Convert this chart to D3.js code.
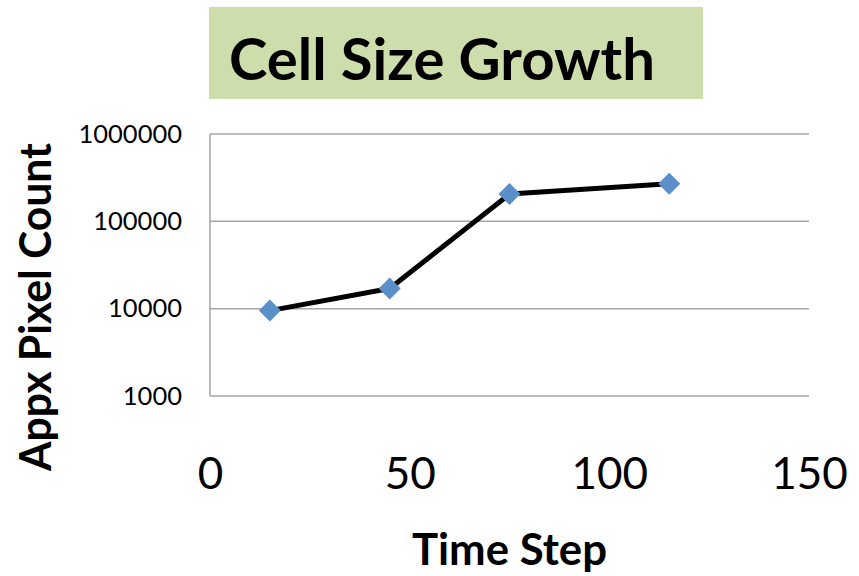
<!DOCTYPE html>
<html>
<head>
<meta charset="utf-8">
<script src="https://cdn.jsdelivr.net/npm/d3@7/dist/d3.min.js"></script>
<style>
  html, body { margin: 0; padding: 0; background: #ffffff; }
  svg { display: block; }
  text { font-family: Lato, "Open Sans", sans-serif; fill: #000; }
</style>
</head>
<body>
<svg id="chart" width="859" height="576"></svg>
<script>
// Series: approximate pixel count of the cell at each time step
const timeSteps = [15, 45, 75, 115];
const pixelCounts = [9500, 17000, 205000, 270000];

// Axis ticks
const xTicks = [0, 50, 100, 150];
const yTicks = [1000, 10000, 100000, 1000000];

const titleText = "Cell Size Growth";
const xLabel = "Time Step";
const yLabel = "Appx Pixel Count";

const svg = d3.select("#chart");
const plot = { left: 210, right: 809, top: 134, bottom: 396 };

const x = d3.scaleLinear().domain([0, 150]).range([plot.left, plot.right]);
const y = d3.scaleLog().domain([1000, 1000000]).range([plot.bottom, plot.top]);

// Scale a text element's font size so it spans the given width
function fitWidth(sel, width) {
  const node = sel.node();
  const fs = parseFloat(sel.attr("font-size"));
  const w = node.getComputedTextLength();
  sel.attr("font-size", (fs * width / w).toFixed(2));
}

// Horizontal squeeze factor that makes a text element span the given width
function squeezeFor(sel, width) {
  return width / sel.node().getComputedTextLength();
}

// Title banner
svg.append("rect")
  .attr("x", 209).attr("y", 7)
  .attr("width", 494).attr("height", 92)
  .attr("fill", "#cdddac");

const title = svg.append("text")
  .attr("x", 229).attr("y", 80)
  .attr("font-size", 60)
  .attr("font-weight", "bold")
  .text(titleText);
fitWidth(title, 426);

// Horizontal gridlines
svg.append("g")
  .selectAll("line")
  .data(yTicks)
  .join("line")
  .attr("x1", plot.left).attr("x2", plot.right)
  .attr("y1", d => y(d)).attr("y2", d => y(d))
  .attr("stroke", "#a6a6a6")
  .attr("stroke-width", 1.5);

// Y axis line
svg.append("line")
  .attr("x1", plot.left).attr("x2", plot.left)
  .attr("y1", plot.top).attr("y2", plot.bottom)
  .attr("stroke", "#a6a6a6")
  .attr("stroke-width", 1.5);

// Y tick labels
const yAxis = d3.axisLeft(y).tickValues(yTicks).tickFormat(d3.format("d")).tickSize(0).tickPadding(28);
const gy = svg.append("g").attr("transform", `translate(${plot.left},0)`).call(yAxis);
gy.select(".domain").remove();
gy.selectAll("text")
  .attr("font-family", "Lato, 'Open Sans', sans-serif")
  .attr("font-size", 25.5)
  .attr("fill", "#000");

// X tick labels
const xAxis = d3.axisBottom(x).tickValues(xTicks).tickFormat(d3.format("d")).tickSize(0).tickPadding(0);
const gx = svg.append("g").attr("transform", `translate(0,${plot.bottom})`).call(xAxis);
gx.select(".domain").remove();
gx.selectAll("text")
  .attr("font-family", "Lato, 'Open Sans', sans-serif")
  .attr("font-size", 44)
  .attr("fill", "#000")
  .attr("dy", null)
  .attr("y", 93);

// Axis titles
const xt = svg.append("text")
  .attr("x", (plot.left + plot.right) / 2).attr("y", 565)
  .attr("text-anchor", "middle")
  .attr("font-size", 40)
  .attr("font-weight", "bold")
  .text(xLabel);
fitWidth(xt, 195);

const yt = svg.append("text")
  .attr("text-anchor", "middle")
  .attr("font-size", 43)
  .attr("font-weight", "bold")
  .text(yLabel);
const ySqueeze = squeezeFor(yt, 328);
yt.attr("transform", `translate(51,307) rotate(-90) scale(${ySqueeze},1)`);

// Series line
const points = timeSteps.map((t, i) => [t, pixelCounts[i]]);
svg.append("path")
  .datum(points)
  .attr("fill", "none")
  .attr("stroke", "#000")
  .attr("stroke-width", 5)
  .attr("stroke-linejoin", "round")
  .attr("d", d3.line().x(d => x(d[0])).y(d => y(d[1])));

// Diamond markers
svg.append("g")
  .selectAll("path")
  .data(points)
  .join("path")
  .attr("transform", d => `translate(${x(d[0])},${y(d[1])})`)
  .attr("d", "M0,-11L11,0L0,11L-11,0Z")
  .attr("fill", "#5b8fc9");
</script>
</body>
</html>
